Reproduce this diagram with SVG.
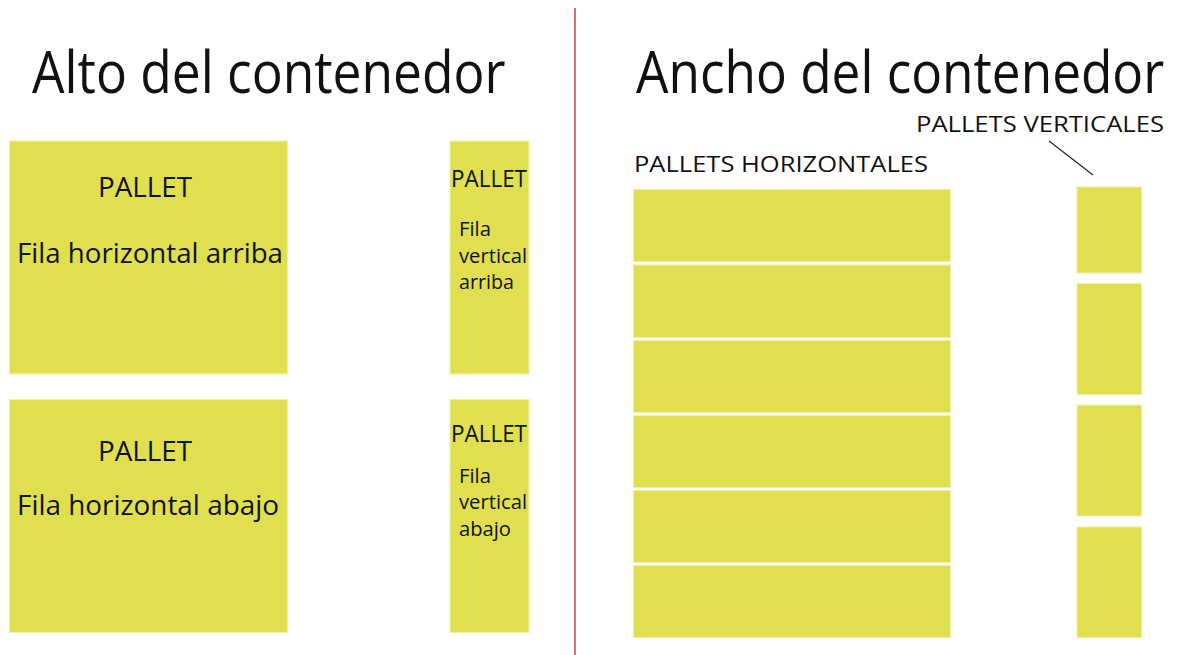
<svg xmlns="http://www.w3.org/2000/svg" width="1184" height="655" viewBox="0 0 1184 655">
<style>
.box{fill:#e0df50;stroke:#efefa8;stroke-width:1}
text{font-family:"Open Sans","Noto Sans","Liberation Sans",sans-serif;fill:#111}
.title{font-size:58px}
.big{font-size:28px}
.mid{font-size:24px}
.small{font-size:20px}
.lab{font-size:22px}
</style>
<rect width="1184" height="655" fill="#fff"/>
<line x1="575" y1="8" x2="575" y2="655" stroke="#d8707a" stroke-width="2"/>
<text class="title" transform="translate(32,93) scale(0.888,1)" x="0" y="0">Alto del contenedor</text>
<text class="title" transform="translate(636,93) scale(0.885,1)" x="0" y="0">Ancho del contenedor</text>
<g id="h-arriba">
<rect class="box" x="9.5" y="141" width="278" height="233"/>
<text class="big" x="98" y="197" textLength="94" lengthAdjust="spacingAndGlyphs">PALLET</text>
<text class="big" x="17" y="263" textLength="266" lengthAdjust="spacingAndGlyphs">Fila horizontal arriba</text>
</g>
<g id="h-abajo">
<rect class="box" x="9.5" y="399.5" width="278" height="233"/>
<text class="big" x="98" y="461" textLength="94" lengthAdjust="spacingAndGlyphs">PALLET</text>
<text class="big" x="17" y="515" textLength="262" lengthAdjust="spacingAndGlyphs">Fila horizontal abajo</text>
</g>
<g id="v-arriba">
<rect class="box" x="450" y="141" width="79" height="233"/>
<text class="mid" x="451" y="187" textLength="76" lengthAdjust="spacingAndGlyphs">PALLET</text>
<text class="small" x="459" y="236" textLength="32" lengthAdjust="spacingAndGlyphs">Fila</text>
<text class="small" x="459" y="263" textLength="68" lengthAdjust="spacingAndGlyphs">vertical</text>
<text class="small" x="459" y="289" textLength="55" lengthAdjust="spacingAndGlyphs">arriba</text>
</g>
<g id="v-abajo">
<rect class="box" x="450" y="399.5" width="79" height="233"/>
<text class="mid" x="451" y="442" textLength="76" lengthAdjust="spacingAndGlyphs">PALLET</text>
<text class="small" x="459" y="483" textLength="32" lengthAdjust="spacingAndGlyphs">Fila</text>
<text class="small" x="459" y="509" textLength="68" lengthAdjust="spacingAndGlyphs">vertical</text>
<text class="small" x="459" y="536" textLength="52" lengthAdjust="spacingAndGlyphs">abajo</text>
</g>
<text class="lab" x="634" y="172" textLength="294" lengthAdjust="spacingAndGlyphs">PALLETS HORIZONTALES</text>
<text class="lab" x="916" y="132" textLength="248" lengthAdjust="spacingAndGlyphs">PALLETS VERTICALES</text>
<g id="horizontales">
<rect class="box" x="633.5" y="189.5" width="317" height="72"/>
<rect class="box" x="633.5" y="265" width="317" height="72.5"/>
<rect class="box" x="633.5" y="340.5" width="317" height="72"/>
<rect class="box" x="633.5" y="415.5" width="317" height="72"/>
<rect class="box" x="633.5" y="490.5" width="317" height="72"/>
<rect class="box" x="633.5" y="565.5" width="317" height="72"/>
</g>
<g id="verticales">
<rect class="box" x="1077" y="187" width="64.5" height="86"/>
<rect class="box" x="1077" y="283.5" width="64.5" height="111"/>
<rect class="box" x="1077" y="405" width="64.5" height="111"/>
<rect class="box" x="1077" y="527" width="64.5" height="110.5"/>
</g>
<g id="connectors">
<line x1="1049" y1="141" x2="1093" y2="175" stroke="#222" stroke-width="1.2"/>
</g>
</svg>
